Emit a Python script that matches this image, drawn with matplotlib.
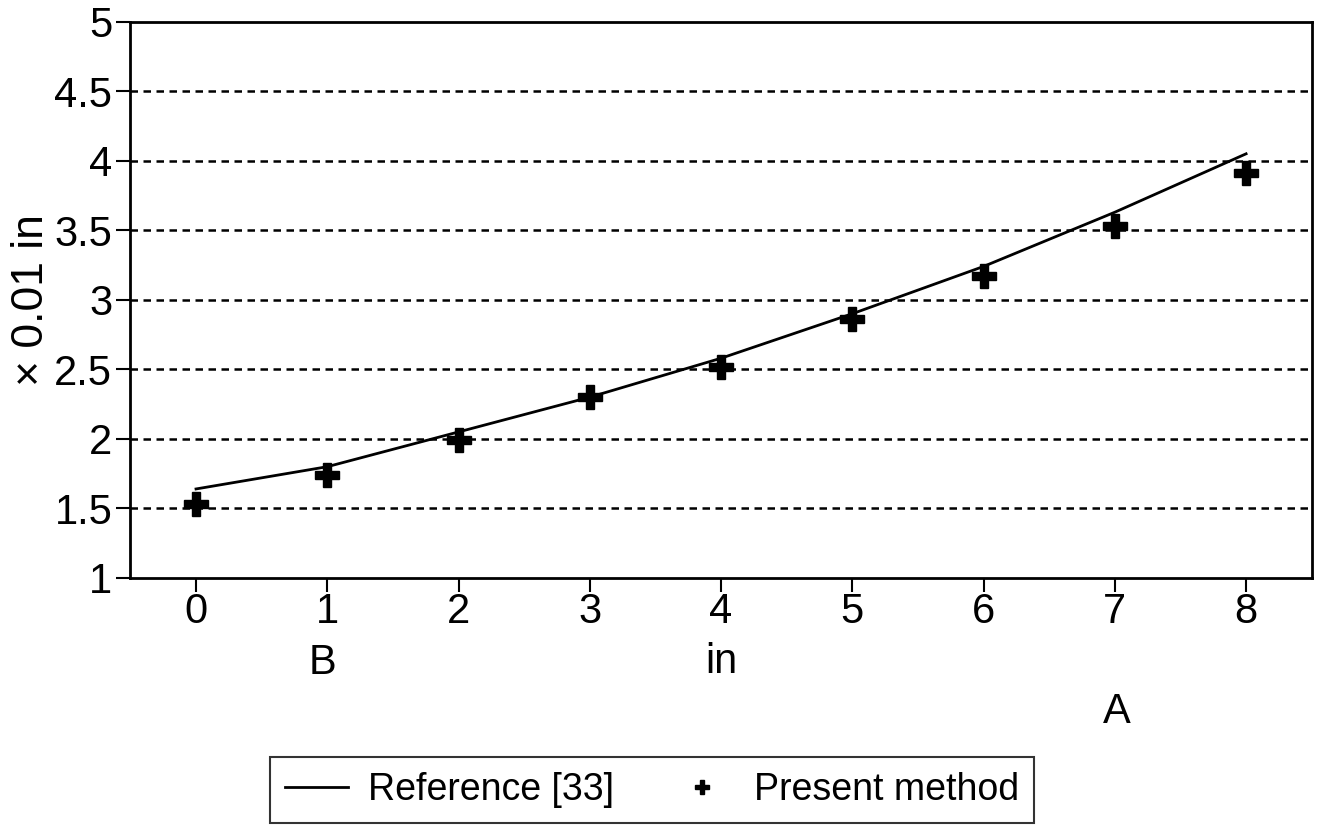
import matplotlib
matplotlib.use('Agg')
import matplotlib.pyplot as plt

# data
positions = [0, 1, 2, 3, 4, 5, 6, 7, 8]
reference_33 = [1.64, 1.80, 2.05, 2.30, 2.58, 2.90, 3.24, 3.63, 4.05]
present_method = [1.53, 1.74, 1.99, 2.30, 2.52, 2.86, 3.17, 3.53, 3.91]
y_ticks = [1, 1.5, 2, 2.5, 3, 3.5, 4, 4.5, 5]
y_tick_labels = ['1', '1.5', '2', '2.5', '3', '3.5', '4', '4.5', '5']

plt.rcParams['font.family'] = ['Liberation Sans', 'DejaVu Sans']

fig = plt.figure(figsize=(13.17, 8.34), dpi=100)
ax = fig.add_axes([0.099, 0.307, 0.897, 0.667])

# --- dotted horizontal grid ---
for yv in y_ticks[1:-1]:
    ax.axhline(yv, color='black', linestyle=(0, (3, 2.2)), linewidth=1.8, zorder=1)

# --- series ---
ax.plot(positions, reference_33, color='black', linewidth=2, label='Reference [33]', zorder=3)
ax.plot(positions, present_method, linestyle='none', marker='P', markersize=17,
        color='black', label='Present method', zorder=4)

# --- axes settings ---
ax.set_xlim(-0.5, 8.5)
ax.set_ylim(1, 5)
ax.set_xticks(positions)
ax.set_yticks(y_ticks)
ax.set_yticklabels(y_tick_labels)
ax.tick_params(axis='both', direction='out', length=10, width=1.5,
               labelsize=30, pad=3, color='black')
ax.tick_params(axis='x', pad=0)
for s in ax.spines.values():
    s.set_linewidth(2)

ax.set_xlabel('in', fontsize=30, labelpad=7)
ax.set_ylabel('\u00d7 0.01 in', fontsize=32, labelpad=2)

# corner labels below the axis
fig.text(322 / 1317, 1 - 663 / 834, 'B', fontsize=30, ha='center', va='center')
fig.text(1117 / 1317, 1 - 712 / 834, 'A', fontsize=30, ha='center', va='center')

leg = fig.legend(loc='center', bbox_to_anchor=(0.495, 0.053), ncol=2,
                 fontsize=27, frameon=True, fancybox=False, edgecolor='black',
                 handlelength=1.7, handletextpad=0.53, columnspacing=1.5,
                 borderpad=0.4, borderaxespad=0, markerscale=0.6)
leg.get_frame().set_linewidth(1.5)

fig.savefig('out.png', dpi=100)
